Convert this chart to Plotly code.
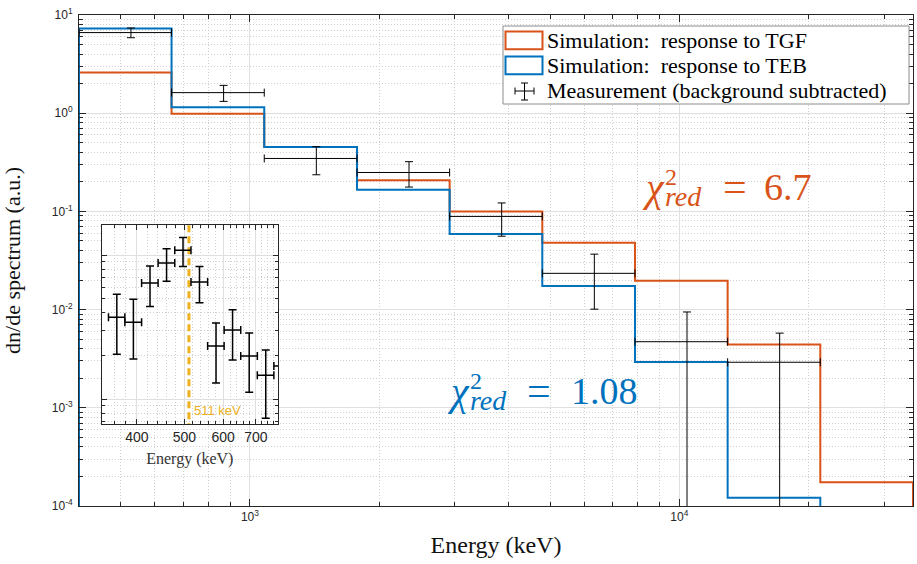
import math
import plotly.graph_objects as go

# ---------------- data ----------------
# main spectrum: energy bin edges (keV)
bin_edges = [400, 657, 1080, 1776, 2918, 4796, 7883, 12955, 21292, 35000]
# simulated responses (dn/de, a.u.) per bin
tgf_response = [2.6, 0.985, 0.454, 0.208, 0.0995, 0.048, 0.0197, 0.0044, 1.75e-4]
teb_response = [7.27, 1.15, 0.454, 0.166, 0.0587, 0.0174, 0.00293, 1.21e-4, 0.0]
# measurement (background subtracted), first 8 bins
meas_values = [6.62, 1.62, 0.346, 0.249, 0.0889, 0.0234, 0.00471, 0.00291]
meas_errors = [0.75, 0.30, 0.11, 0.072, 0.033, 0.0133, 0.00475, 0.00285]

# inset: low-energy measurement
inset_edges = [350, 378, 409, 442, 478, 516, 558, 603, 652, 705, 762, 824]
inset_values = [0.0370, 0.0342, 0.0640, 0.0881, 0.1078, 0.0650, 0.0234, 0.0302, 0.0200, 0.0147, 0.0170]
inset_errors = [0.0165, 0.0152, 0.0200, 0.0223, 0.0246, 0.0183, 0.0104, 0.0115, 0.0088, 0.0073, 0.0080]
annihilation_keV = 511

chi2_tgf = "6.7"
chi2_teb = "1.08"

x_ticks = [1e3, 1e4]
x_ticktext = ["10<sup>3</sup>", "10<sup>4</sup>"]
y_ticks = [1e-4, 1e-3, 1e-2, 1e-1, 1e0, 1e1]
y_ticktext = ["10<sup>-4</sup>", "10<sup>-3</sup>", "10<sup>-2</sup>",
              "10<sup>-1</sup>", "10<sup>0</sup>", "10<sup>1</sup>"]
inset_x_ticks = [400, 500, 600, 700]
inset_x_ticktext = ["400", "500", "600", "700"]

# ---------------- styling ----------------
ORANGE = "#D95319"
BLUE = "#0072BD"
YELLOW = "#EDB120"
AXC = "#262626"
GRID = "#dfdfdf"
MGRID = "#cfcfcf"
SERIF = "Liberation Serif, DejaVu Serif, serif"
SANS = "Liberation Sans"

W, H = 917, 564
L, R, T, B = 79, 4, 15, 58
PW, PH = W - L - R, H - T - B


def px_x(px):
    return (px - L) / PW


def px_y(py):
    return (H - B - py) / PH


FLOOR = 1e-7


def stairs(edges, vals):
    xs, ys = [edges[0]], [FLOOR]
    for i, v in enumerate(vals):
        v = v if v > 0 else FLOOR
        xs += [edges[i], edges[i + 1]]
        ys += [v, v]
    xs.append(edges[-1])
    ys.append(FLOOR)
    return xs, ys


def centers(edges, n):
    return [(edges[i] + edges[i + 1]) / 2 for i in range(n)]


fig = go.Figure()

tx, ty = stairs(bin_edges, tgf_response)
fig.add_trace(go.Scatter(x=tx, y=ty, mode="lines", line=dict(color=ORANGE, width=2),
                         name="Simulation: response to TGF", showlegend=False))
bx, by = stairs(bin_edges, teb_response)
fig.add_trace(go.Scatter(x=bx, y=by, mode="lines", line=dict(color=BLUE, width=2),
                         name="Simulation: response to TEB", showlegend=False))

mx = centers(bin_edges, len(meas_values))
fig.add_trace(go.Scatter(
    x=mx, y=meas_values, mode="markers",
    marker=dict(size=1, color="rgba(0,0,0,0)"),
    error_x=dict(type="data", symmetric=False,
                 array=[bin_edges[i + 1] - mx[i] for i in range(len(mx))],
                 arrayminus=[mx[i] - bin_edges[i] for i in range(len(mx))],
                 color="black", thickness=1, width=4),
    error_y=dict(type="data", array=meas_errors, color="black", thickness=1, width=4),
    name="Measurement (background subtracted)", showlegend=False))

# inset
ix = centers(inset_edges, len(inset_values))
inset_yrange = [-2.171, -0.792]
fig.add_trace(go.Scatter(
    x=[annihilation_keV, annihilation_keV],
    y=[10 ** (inset_yrange[0] - 0.5), 10 ** (inset_yrange[1] + 0.5)],
    mode="lines", line=dict(color=YELLOW, width=3, dash="7px,4px"),
    xaxis="x2", yaxis="y2", showlegend=False, hoverinfo="skip"))
fig.add_trace(go.Scatter(
    x=ix, y=inset_values, mode="markers", xaxis="x2", yaxis="y2",
    marker=dict(size=1, color="rgba(0,0,0,0)"),
    error_x=dict(type="data", symmetric=False,
                 array=[inset_edges[i + 1] - ix[i] for i in range(len(ix))],
                 arrayminus=[ix[i] - inset_edges[i] for i in range(len(ix))],
                 color="black", thickness=1.5, width=4),
    error_y=dict(type="data", array=inset_errors, color="black", thickness=1.5, width=4),
    showlegend=False))

# minor tick positions
main_y_minor = [m * 10 ** k for k in range(-4, 1) for m in range(2, 10)]
main_x_minor = [m * 10 ** k for k in range(2, 5) for m in range(2, 10)
                if 400 <= m * 10 ** k <= 35000]
inset_x_minor = [v for v in range(340, 790, 20) if v not in inset_x_ticks]
inset_y_minor = [m * 10 ** k for k in (-3, -2, -1) for m in range(2, 10)]

common = dict(showline=True, linecolor=AXC, linewidth=1, mirror="allticks",
              ticks="inside", tickcolor=AXC, tickwidth=1,
              showgrid=True, gridcolor=GRID, gridwidth=1, zeroline=False)

fig.update_layout(
    width=W, height=H, margin=dict(l=L, r=R, t=T, b=B, pad=0),
    paper_bgcolor="white", plot_bgcolor="white", showlegend=False,
    xaxis=dict(type="log", range=[math.log10(bin_edges[0]), math.log10(bin_edges[-1])],
               domain=[0, 1], anchor="y", tickmode="array", tickvals=x_ticks,
               ticktext=x_ticktext, ticklen=7,
               tickfont=dict(family=SANS, size=12, color=AXC),
               minor=dict(tickmode="array", tickvals=main_x_minor, ticks="inside",
                          ticklen=4, tickcolor=AXC, showgrid=True, gridcolor=MGRID,
                          griddash="1px,2px"),
               title=dict(text="Energy (keV)", font=dict(family=SERIF, size=24, color="#111"),
                          standoff=12),
               **common),
    yaxis=dict(type="log", range=[-4, 1], domain=[0, 1], anchor="x",
               tickmode="array", tickvals=y_ticks, ticktext=y_ticktext, ticklen=7,
               ticklabelstandoff=3,
               tickfont=dict(family=SANS, size=12, color=AXC),
               minor=dict(tickmode="array", tickvals=main_y_minor, ticks="inside",
                          ticklen=4, tickcolor=AXC, showgrid=True, gridcolor=MGRID,
                          griddash="1px,2px"),
               title=dict(text="dn/de spectrum (a.u.)",
                          font=dict(family=SERIF, size=22, color="#111"), standoff=30),
               **common),
    xaxis2=dict(type="log", range=[math.log10(339), math.log10(777)],
                domain=[px_x(101.7), px_x(278)], anchor="y2",
                tickmode="array", tickvals=inset_x_ticks, ticktext=inset_x_ticktext,
                ticklen=5, tickfont=dict(family=SANS, size=14, color=AXC),
                minor=dict(tickmode="array", tickvals=inset_x_minor, ticks="inside",
                           ticklen=3, tickcolor=AXC, showgrid=True, gridcolor=MGRID,
                           griddash="1px,2px"),
                title=dict(text="Energy (keV)", font=dict(family=SERIF, size=16, color="#333"),
                           standoff=9),
                **common),
    yaxis2=dict(type="log", range=inset_yrange,
                domain=[px_y(424), px_y(225)], anchor="x2",
                tickmode="array", tickvals=[0.01, 0.1], showticklabels=False, ticklen=5,
                minor=dict(tickmode="array", tickvals=inset_y_minor, ticks="inside",
                           ticklen=3, tickcolor=AXC, showgrid=True, gridcolor=MGRID,
                           griddash="1px,2px"),
                **common),
)

# ---------------- legend (drawn manually) ----------------
shapes = []
shapes.append(dict(type="rect", xref="paper", yref="paper",
                   x0=px_x(503), x1=px_x(909), y0=px_y(104), y1=px_y(26),
                   line=dict(color="#8c8c8c", width=1), fillcolor="white", layer="above"))
shapes.append(dict(type="rect", xref="paper", yref="paper",
                   x0=px_x(505.5), x1=px_x(542.5), y0=px_y(49.2), y1=px_y(31.5),
                   line=dict(color=ORANGE, width=2), fillcolor="white", layer="above"))
shapes.append(dict(type="rect", xref="paper", yref="paper",
                   x0=px_x(505.5), x1=px_x(542.5), y0=px_y(74.2), y1=px_y(56.5),
                   line=dict(color=BLUE, width=2), fillcolor="white", layer="above"))
for (x0, y0, x1, y1) in [(515, 91, 534, 91), (524.5, 83, 524.5, 100),
                         (515, 87.5, 515, 94.5), (534, 87.5, 534, 94.5),
                         (521, 83, 528, 83), (521, 100, 528, 100)]:
    shapes.append(dict(type="line", xref="paper", yref="paper",
                       x0=px_x(x0), x1=px_x(x1), y0=px_y(y0), y1=px_y(y1),
                       line=dict(color="black", width=1), layer="above"))
fig.update_layout(shapes=shapes)

ann = []
for text, yc in [("Simulation:  response to TGF", 40.5),
                 ("Simulation:  response to TEB", 65.5),
                 ("Measurement (background subtracted)", 90.5)]:
    ann.append(dict(text=text, xref="paper", yref="paper", x=px_x(545), y=px_y(yc),
                    xanchor="left", yanchor="middle", showarrow=False,
                    font=dict(family=SERIF, size=22, color="black")))


def chi_label(color, x_chi, base, x_eq, x_num, value):
    res = []
    res.append(dict(text="<i>χ</i>", xref="paper", yref="paper",
                    x=px_x(x_chi), y=px_y(base - 12), xanchor="left", yanchor="middle",
                    showarrow=False, borderpad=0,
                    font=dict(family=SERIF, size=40, color=color)))
    # superscript 2 stacked over subscript "red"
    res.append(dict(text="<span style='font-size:24px'>2</span><br>"
                         "<span style='font-size:28px'><i>red</i></span>",
                    xref="paper", yref="paper", align="left",
                    x=px_x(x_chi + 23), y=px_y(base - 11), xanchor="left", yanchor="middle",
                    showarrow=False, borderpad=0,
                    font=dict(family=SERIF, size=16.5, color=color)))
    res.append(dict(text="=", xref="paper", yref="paper",
                    x=px_x(x_eq), y=px_y(base - 12), xanchor="left", yanchor="middle",
                    showarrow=False, font=dict(family=SERIF, size=42, color=color)))
    res.append(dict(text=value, xref="paper", yref="paper",
                    x=px_x(x_num), y=px_y(base - 12), xanchor="left", yanchor="middle",
                    showarrow=False, font=dict(family=SERIF, size=38, color=color)))
    return res


ann += chi_label(ORANGE, 641, 199, 721, 762, chi2_tgf)
ann += chi_label(BLUE, 446, 403, 525, 569, chi2_teb)

ann.append(dict(text="511 keV", xref="paper", yref="paper", x=px_x(192), y=px_y(410),
                xanchor="left", yanchor="middle", showarrow=False,
                font=dict(family=SANS, size=13, color=YELLOW)))
fig.update_layout(annotations=ann)

fig.write_html("out.html")
